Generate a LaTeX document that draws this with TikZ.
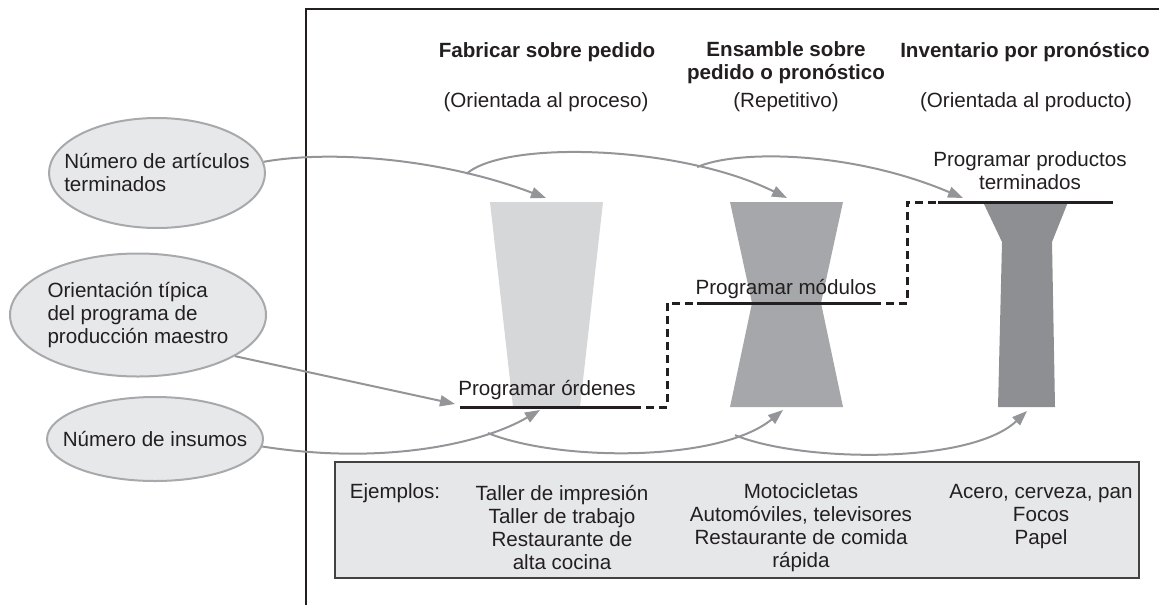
\documentclass[tikz,border=0pt]{standalone}
\usepackage{fontspec}
\setmainfont{Liberation Sans}
\usetikzlibrary{shapes.geometric,arrows.meta,positioning}
\definecolor{ovalfill}{RGB}{231,232,233}
\definecolor{ovaldraw}{RGB}{167,169,172}
\definecolor{flowgrey}{RGB}{148,149,152}
\definecolor{ordgrey}{RGB}{214,215,217}
\definecolor{modgrey}{RGB}{166,167,170}
\definecolor{prodgrey}{RGB}{142,143,146}
\definecolor{boxfill}{RGB}{230,231,232}
\definecolor{inkblack}{RGB}{35,31,32}
\newcommand{\diafont}{\fontsize{10.3}{11.5}\selectfont}

\begin{document}
\begin{tikzpicture}[
    x=0.5pt, y=-0.5pt,
    oval/.style={ellipse, draw=ovaldraw, line width=1pt, fill=ovalfill, inner sep=0pt},
    ovaltext/.style={align=left, font=\diafont, text=inkblack},
    head/.style={align=center, font=\diafont\bfseries, text=inkblack},
    sub/.style={font=\diafont, text=inkblack},
    plan/.style={align=center, font=\diafont, text=inkblack},
    sched/.style={line width=1.5pt, draw=inkblack},
    link/.style={sched, dash pattern=on 4pt off 2.5pt},
    flow/.style={draw=flowgrey, line width=1pt, -{Triangle[length=7.5pt,width=5.5pt]}},
    extext/.style={align=center, font=\diafont, text=inkblack}
]
\useasboundingbox (0,0) rectangle (1159,605);

% frame
\draw[inkblack, line width=0.8pt] (306,605) -- (306,9) -- (1159,9);

% left ovals
\node[oval, minimum width=108pt, minimum height=55pt, label={[ovaltext]center:Número de artículos\\terminados}] (nart) at (157,173) {};
\node[oval, minimum width=128pt, minimum height=61.5pt, label={[ovaltext]center:Orientación típica\\del programa de\\producción maestro}] (ori) at (138,315) {};
\node[oval, minimum width=108pt, minimum height=42pt, label={[ovaltext]center:Número de insumos}] (nins) at (155,439) {};

% column headings
\node[head] (hfab) at (547,52) {Fabricar sobre pedido};
\node[head] (hens) at (786,63) {Ensamble sobre\\pedido o pronóstico};
\node[head] (hinv) at (1025,52) {Inventario por pronóstico};
\node[sub] (sfab) at (546,102) {(Orientada al proceso)};
\node[sub] (sens) at (786,102) {(Repetitivo)};
\node[sub] (sinv) at (1026,102) {(Orientada al producto)};

% shapes
\fill[ordgrey] (490,202) -- (603,202) -- (580,407) -- (513,407) -- cycle;
\fill[modgrey] (730,202) -- (843,202) -- (821,303) -- (843,407) -- (730,407) -- (752,303) -- cycle;
\fill[prodgrey] (983,202) -- (1068,202) -- (1052,242) -- (1055,407) -- (998,407) -- (1002,242) -- cycle;

% schedule levels
\coordinate (ordL) at (460,407);
\coordinate (ordR) at (633,407);
\coordinate (modL) at (697,303);
\coordinate (modR) at (873,303);
\coordinate (prodL) at (938,202);
\coordinate (prodR) at (1113,202);
\draw[sched] (ordL) -- (ordR);
\draw[sched] (modL) -- (modR);
\draw[sched] (prodL) -- (prodR);
\draw[link] (ordR) -- ++(34,0) |- (modL);
\draw[link] (modR) -- ++(34,0) |- (prodL);

\node[plan] (pord) at (547,390) {Programar órdenes};
\node[plan] (pmod) at (786,289) {Programar módulos};
\node[plan] (pprod) at (1030,171) {Programar productos\\terminados};

% arrow ends
\coordinate (fabtop) at (546,198);
\coordinate (enstop) at (787,198);
\coordinate (invtop) at (963,198);
\coordinate (fabbot) at (540,410);
\coordinate (ensbot) at (783,410);
\coordinate (invbot) at (1027,411);
\coordinate (ordin) at (455,404);

\draw[flow] (nart.6) .. controls (330,150) and (440,158) .. coordinate[pos=0.75] (fork1) (fabtop);
\draw[flow] (fork1) .. controls (505,140) and (680,145) .. coordinate[pos=0.75] (fork2) (enstop);
\draw[flow] (fork2) .. controls (735,150) and (850,150) .. (invtop);

\draw[flow] (ori.-23) -- (ordin);

\draw[flow] (nins.-4) .. controls (380,465) and (480,445) .. coordinate[pos=0.75] (fork3) (fabbot);
\draw[flow] (fork3) .. controls (560,462) and (720,462) .. coordinate[pos=0.8] (fork4) (ensbot);
\draw[flow] (fork4) .. controls (800,462) and (970,465) .. (invbot);

% examples
\filldraw[fill=boxfill, draw=inkblack!85, line width=0.7pt] (335,462) rectangle (1139,578);
\node[extext] (ejl) at (395,493) {Ejemplos:};
\node[extext] (ejfab) at (562,528) {Taller de impresión\\Taller de trabajo\\Restaurante de\\alta cocina};
\node[extext] (ejens) at (801,528) {Motocicletas\\Automóviles, televisores\\Restaurante de comida\\rápida};
\node[extext] (ejinv) at (1041,517) {Acero, cerveza, pan\\Focos\\Papel};
\end{tikzpicture}
\end{document}
